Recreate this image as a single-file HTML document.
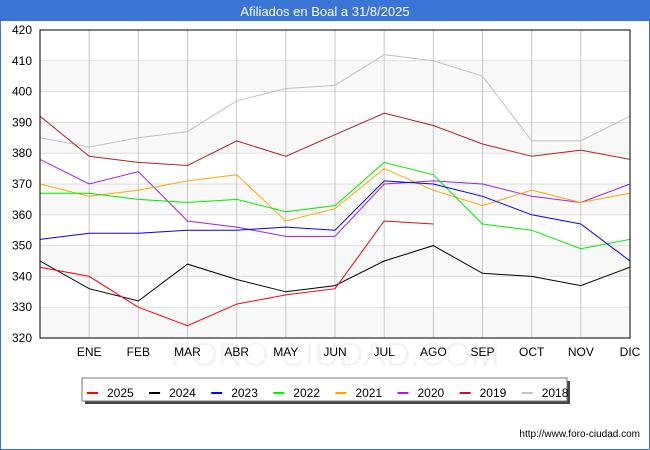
<!DOCTYPE html>
<html><head><meta charset="utf-8"><style>
body{margin:0;background:#fff;font-family:"Liberation Sans","DejaVu Sans",sans-serif;}
#wrap{position:relative;width:648px;height:449px;border:1px solid #3a75d6;border-top:none;}
#title{position:absolute;left:0;top:0;width:648px;height:21px;background:#3a75d6;color:#fff;font-size:13px;text-align:center;line-height:23px;}
</style></head><body>
<div id="wrap">
<div id="title">Afiliados en Boal a 31/8/2025</div>
<svg id="chart" width="650" height="450" style="position:absolute;left:-1px;top:0"></svg>
</div>
<script>
const months=["","ENE","FEB","MAR","ABR","MAY","JUN","JUL","AGO","SEP","OCT","NOV","DIC"];
const yTicks=[320,330,340,350,360,370,380,390,400,410,420];
const seriesNames=["2025","2024","2023","2022","2021","2020","2019","2018"];
const colors=["#ff0000","#000000","#0000ff","#00ee00","#ffa500","#a020f0","#b22222","#c0c0c0"];
const s2025=[343,340,330,324,331,334,336,358,357];
const s2024=[345,336,332,344,339,335,337,345,350,341,340,337,343];
const s2023=[352,354,354,355,355,356,355,371,370,366,360,357,345];
const s2022=[367,367,365,364,365,361,363,377,373,357,355,349,352];
const s2021=[370,366,368,371,373,358,362,375,368,363,368,364,367];
const s2020=[378,370,374,358,356,353,353,370,371,370,366,364,370];
const s2019=[392,379,377,376,384,379,386,393,389,383,379,381,378];
const s2018=[385,382,385,387,397,401,402,412,410,405,384,384,392];
const allSeries=[s2025,s2024,s2023,s2022,s2021,s2020,s2019,s2018];

const L=40,R=630,T=30,B=338,yMin=320,yMax=420;
const x=i=>L+i*(R-L)/12;
const y=v=>B-(v-yMin)*(B-T)/(yMax-yMin);
const svg=document.getElementById('chart');
const NS="http://www.w3.org/2000/svg";
function mk(tag,at,parent){const e=document.createElementNS(NS,tag);for(const k in at)e.setAttribute(k,at[k]);(parent||svg).appendChild(e);return e;}

for(let i=0;i<yTicks.length-1;i+=2){
  const b=mk('rect',{x:L,y:y(yTicks[i+1]),width:R-L,height:y(yTicks[i])-y(yTicks[i+1]),fill:'#f8f8f8'});
  
  
}
yTicks.forEach(v=>{
  const g=mk('line',{x1:L,x2:R,y1:y(v),y2:y(v),stroke:'#dddddd','stroke-width':1});
  
  
  const t=mk('text',{x:L-8,y:y(v)+4,'text-anchor':'end','font-size':12,fill:'#000'});
  t.textContent=v;
  
  
});
const wm=mk('text',{x:335,y:366,'text-anchor':'middle','font-size':34,fill:'#f3f4fb'});
wm.textContent='FORO-CIUDAD.COM';


months.forEach((m,i)=>{
  if(i>0){
    const g=mk('line',{x1:x(i),x2:x(i),y1:T,y2:B,stroke:'#c8c8c8','stroke-width':1});
    
    
  }
  const t=mk('text',{x:x(i),y:B+18,'text-anchor':'middle','font-size':12,fill:'#000'});
  t.textContent=m;
  
  
});

for(let s=allSeries.length-1;s>=0;s--){
  const pts=allSeries[s].map((v,i)=>x(i).toFixed(1)+','+y(v).toFixed(1)).join(' ');
  const p=mk('polyline',{points:pts,fill:'none',stroke:colors[s],'stroke-width':1});
  
  
}
const fr=mk('rect',{x:L,y:T,width:R-L,height:B-T,fill:'none',stroke:'#000','stroke-width':1});



const lg=mk('g',{});


mk('rect',{x:85,y:381,width:485,height:23,fill:'#444'},lg);
mk('rect',{x:82,y:378,width:485,height:23,fill:'#fff',stroke:'#777','stroke-width':1},lg);
seriesNames.forEach((n,i)=>{
  const lx=87+i*62.1;
  const ln=mk('line',{x1:lx,x2:lx+11,y1:393,y2:393,stroke:colors[i],'stroke-width':2},lg);
  
  
  const t=mk('text',{x:lx+20,y:397,'font-size':12,fill:'#000'},lg);
  t.textContent=n;
  
  
});
const u=mk('text',{x:640,y:437,'text-anchor':'end','font-size':10,fill:'#000'});
u.textContent='http://www.foro-ciudad.com';


</script>
</body></html>
